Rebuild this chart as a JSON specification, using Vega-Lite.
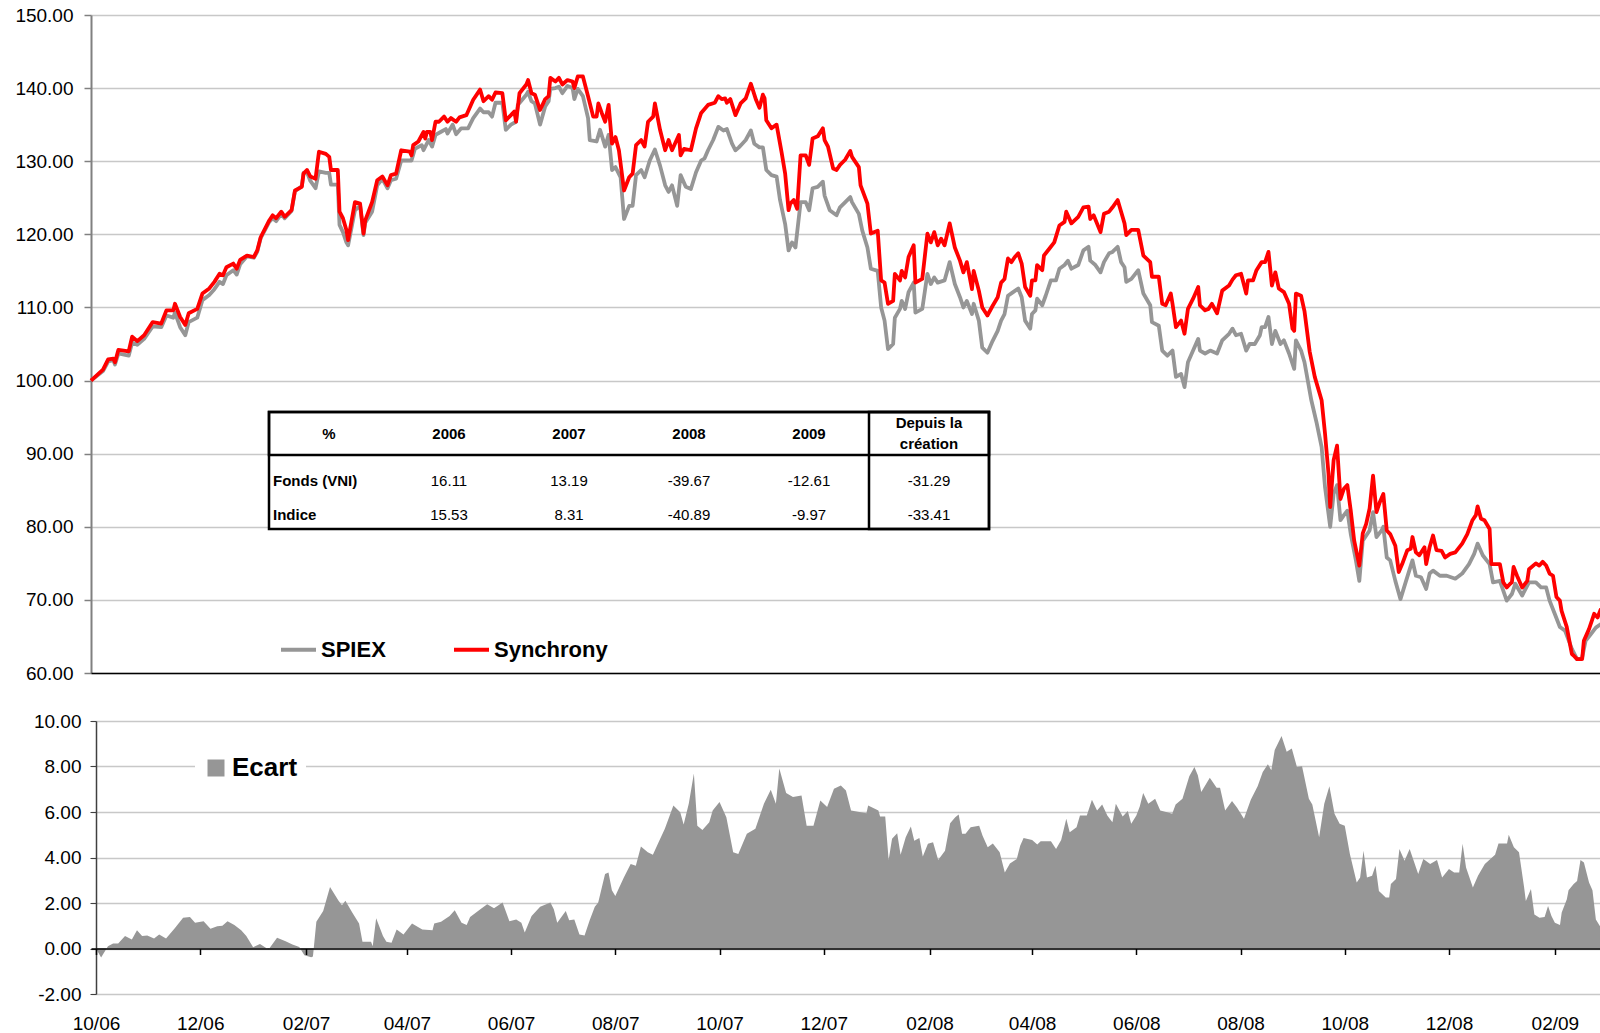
{
"$schema": "https://vega.github.io/schema/vega-lite/v6.json",
"background": "white",
"padding": {"left": 14, "top": 6, "right": 0, "bottom": 0},
"spacing": 29,
"align": "none",
"config": {"view": {"stroke": null}, "font": "Liberation Sans", "axis": {"labelFont": "Liberation Sans"}, "legend": {"labelFont": "Liberation Sans"}},
"resolve": {"scale": {"x": "independent", "y": "independent", "color": "independent"}, "legend": {"color": "independent"}},
"datasets": {
"sync": [
{"d":"2006-10-01","v":100.0},{"d":"2006-10-08","v":101.5},{"d":"2006-10-11","v":102.9},{"d":"2006-10-14","v":103.0},{"d":"2006-10-15","v":102.5},{"d":"2006-10-17","v":104.2},{"d":"2006-10-23","v":104.0},{"d":"2006-10-25","v":106.0},{"d":"2006-10-28","v":105.4},{"d":"2006-11-01","v":106.2},{"d":"2006-11-06","v":108.0},{"d":"2006-11-11","v":107.8},{"d":"2006-11-14","v":109.6},{"d":"2006-11-18","v":109.6},{"d":"2006-11-19","v":110.5},{"d":"2006-11-22","v":108.7},{"d":"2006-11-25","v":107.6},{"d":"2006-11-27","v":109.2},{"d":"2006-12-02","v":109.8},{"d":"2006-12-05","v":111.9},{"d":"2006-12-09","v":112.6},{"d":"2006-12-12","v":113.5},{"d":"2006-12-15","v":114.6},{"d":"2006-12-17","v":114.4},{"d":"2006-12-19","v":115.5},{"d":"2006-12-23","v":116.0},{"d":"2006-12-25","v":115.3},{"d":"2006-12-27","v":116.5},{"d":"2006-12-31","v":117.1},
{"d":"2007-01-04","v":116.9},{"d":"2007-01-06","v":117.8},{"d":"2007-01-08","v":119.6},{"d":"2007-01-13","v":121.9},{"d":"2007-01-15","v":122.6},{"d":"2007-01-17","v":122.2},{"d":"2007-01-20","v":123.1},{"d":"2007-01-22","v":122.4},{"d":"2007-01-26","v":123.3},{"d":"2007-01-28","v":126.0},{"d":"2007-02-01","v":126.5},{"d":"2007-02-02","v":128.3},{"d":"2007-02-04","v":128.8},{"d":"2007-02-06","v":127.9},{"d":"2007-02-09","v":127.6},{"d":"2007-02-11","v":131.3},{"d":"2007-02-15","v":131.0},{"d":"2007-02-17","v":130.6},{"d":"2007-02-18","v":128.8},{"d":"2007-02-22","v":128.8},{"d":"2007-02-23","v":123.1},{"d":"2007-02-25","v":122.2},{"d":"2007-02-27","v":120.6},{"d":"2007-02-28","v":119.2},{"d":"2007-03-04","v":124.4},{"d":"2007-03-07","v":124.2},{"d":"2007-03-09","v":120.1},{"d":"2007-03-10","v":121.9},{"d":"2007-03-14","v":124.4},{"d":"2007-03-17","v":127.4},{"d":"2007-03-20","v":127.9},{"d":"2007-03-23","v":126.7},{"d":"2007-03-25","v":128.1},{"d":"2007-03-28","v":128.3},{"d":"2007-03-31","v":131.5},
{"d":"2007-04-05","v":131.3},{"d":"2007-04-06","v":130.8},{"d":"2007-04-07","v":132.2},{"d":"2007-04-10","v":132.7},{"d":"2007-04-13","v":134.0},{"d":"2007-04-14","v":133.1},{"d":"2007-04-15","v":134.0},{"d":"2007-04-17","v":134.0},{"d":"2007-04-18","v":132.9},{"d":"2007-04-20","v":135.4},{"d":"2007-04-22","v":135.4},{"d":"2007-04-25","v":136.1},{"d":"2007-04-27","v":135.4},{"d":"2007-04-29","v":135.9},{"d":"2007-05-02","v":135.4},{"d":"2007-05-04","v":136.0},{"d":"2007-05-08","v":136.3},{"d":"2007-05-12","v":138.4},{"d":"2007-05-16","v":139.8},{"d":"2007-05-18","v":138.2},{"d":"2007-05-21","v":138.9},{"d":"2007-05-23","v":138.4},{"d":"2007-05-25","v":139.4},{"d":"2007-05-29","v":139.3},{"d":"2007-05-31","v":135.6},{"d":"2007-06-03","v":136.3},{"d":"2007-06-05","v":136.8},{"d":"2007-06-06","v":135.4},{"d":"2007-06-08","v":139.3},{"d":"2007-06-12","v":140.5},{"d":"2007-06-13","v":141.1},{"d":"2007-06-15","v":139.3},{"d":"2007-06-17","v":139.1},{"d":"2007-06-20","v":137.0},{"d":"2007-06-23","v":138.5},{"d":"2007-06-25","v":138.9},{"d":"2007-06-26","v":141.4},{"d":"2007-06-29","v":140.9},{"d":"2007-07-01","v":141.4},{"d":"2007-07-03","v":140.5},{"d":"2007-07-06","v":141.1},{"d":"2007-07-09","v":140.9},{"d":"2007-07-10","v":140.0},{"d":"2007-07-12","v":141.6},{"d":"2007-07-15","v":141.6},{"d":"2007-07-18","v":138.9},{"d":"2007-07-21","v":136.1},{"d":"2007-07-23","v":136.1},{"d":"2007-07-24","v":137.9},{"d":"2007-07-26","v":136.6},{"d":"2007-07-28","v":135.4},{"d":"2007-07-30","v":137.7},{"d":"2007-08-01","v":132.4},{"d":"2007-08-03","v":133.3},{"d":"2007-08-05","v":131.5},{"d":"2007-08-08","v":126.0},{"d":"2007-08-11","v":127.8},{"d":"2007-08-13","v":128.3},{"d":"2007-08-15","v":132.2},{"d":"2007-08-18","v":132.9},{"d":"2007-08-20","v":132.0},{"d":"2007-08-22","v":135.4},{"d":"2007-08-25","v":136.1},{"d":"2007-08-26","v":137.9},{"d":"2007-08-29","v":134.3},{"d":"2007-09-01","v":131.5},{"d":"2007-09-03","v":132.9},{"d":"2007-09-05","v":131.5},{"d":"2007-09-09","v":133.6},{"d":"2007-09-10","v":130.8},{"d":"2007-09-12","v":131.7},{"d":"2007-09-16","v":131.5},{"d":"2007-09-19","v":134.5},{"d":"2007-09-22","v":136.6},
{"d":"2007-09-26","v":137.7},{"d":"2007-09-30","v":138.0},{"d":"2007-10-02","v":138.9},{"d":"2007-10-04","v":138.5},{"d":"2007-10-06","v":138.6},{"d":"2007-10-07","v":138.0},{"d":"2007-10-09","v":138.5},{"d":"2007-10-12","v":136.3},{"d":"2007-10-15","v":137.9},{"d":"2007-10-18","v":138.6},{"d":"2007-10-21","v":140.6},{"d":"2007-10-24","v":138.4},{"d":"2007-10-26","v":137.3},{"d":"2007-10-28","v":139.1},{"d":"2007-10-29","v":138.6},{"d":"2007-10-30","v":135.6},{"d":"2007-11-02","v":134.5},{"d":"2007-11-05","v":135.0},{"d":"2007-11-08","v":131.1},{"d":"2007-11-10","v":128.3},{"d":"2007-11-12","v":123.3},{"d":"2007-11-13","v":124.2},{"d":"2007-11-15","v":124.7},{"d":"2007-11-17","v":123.5},{"d":"2007-11-19","v":130.8},{"d":"2007-11-22","v":130.8},{"d":"2007-11-24","v":129.5},{"d":"2007-11-26","v":133.1},{"d":"2007-11-29","v":133.4},{"d":"2007-12-02","v":134.5},{"d":"2007-12-03","v":132.9},{"d":"2007-12-05","v":132.0},{"d":"2007-12-08","v":129.0},{"d":"2007-12-10","v":128.8},{"d":"2007-12-12","v":129.5},{"d":"2007-12-15","v":130.2},{"d":"2007-12-18","v":131.4},{"d":"2007-12-19","v":130.6},{"d":"2007-12-23","v":129.2},{"d":"2007-12-24","v":126.7},{"d":"2007-12-28","v":124.2},{"d":"2007-12-30","v":120.1},
{"d":"2008-01-03","v":120.5},{"d":"2008-01-05","v":113.7},{"d":"2008-01-07","v":113.4},{"d":"2008-01-09","v":110.5},{"d":"2008-01-12","v":110.9},{"d":"2008-01-13","v":114.6},{"d":"2008-01-16","v":113.7},{"d":"2008-01-17","v":115.0},{"d":"2008-01-19","v":114.1},{"d":"2008-01-21","v":116.9},{"d":"2008-01-24","v":118.5},{"d":"2008-01-25","v":113.4},{"d":"2008-01-29","v":113.9},{"d":"2008-02-01","v":120.1},{"d":"2008-02-03","v":118.9},{"d":"2008-02-05","v":120.3},{"d":"2008-02-07","v":118.5},{"d":"2008-02-09","v":119.4},{"d":"2008-02-11","v":118.5},{"d":"2008-02-14","v":121.5},{"d":"2008-02-17","v":118.2},{"d":"2008-02-20","v":116.4},{"d":"2008-02-22","v":114.8},{"d":"2008-02-24","v":116.2},{"d":"2008-02-27","v":112.5},{"d":"2008-02-28","v":115.0},{"d":"2008-03-02","v":112.3},{"d":"2008-03-04","v":110.0},{"d":"2008-03-07","v":108.9},{"d":"2008-03-10","v":110.2},{"d":"2008-03-13","v":111.4},{"d":"2008-03-15","v":113.4},
{"d":"2008-03-17","v":113.9},{"d":"2008-03-19","v":116.7},{"d":"2008-03-21","v":116.2},{"d":"2008-03-23","v":116.9},{"d":"2008-03-25","v":117.4},{"d":"2008-03-27","v":116.0},{"d":"2008-03-29","v":112.8},{"d":"2008-04-01","v":111.6},{"d":"2008-04-02","v":113.7},{"d":"2008-04-04","v":113.7},{"d":"2008-04-05","v":115.8},{"d":"2008-04-08","v":115.1},{"d":"2008-04-09","v":117.1},{"d":"2008-04-12","v":118.0},{"d":"2008-04-15","v":118.9},{"d":"2008-04-18","v":121.2},{"d":"2008-04-21","v":121.7},{"d":"2008-04-22","v":123.1},{"d":"2008-04-25","v":121.5},{"d":"2008-04-29","v":122.4},{"d":"2008-05-02","v":123.7},{"d":"2008-05-05","v":123.8},{"d":"2008-05-06","v":122.1},{"d":"2008-05-08","v":122.6},{"d":"2008-05-12","v":120.3},{"d":"2008-05-14","v":122.8},{"d":"2008-05-17","v":123.1},{"d":"2008-05-19","v":123.7},{"d":"2008-05-22","v":124.7},{"d":"2008-05-26","v":121.5},{"d":"2008-05-27","v":119.9},{"d":"2008-05-30","v":120.6},{"d":"2008-06-03","v":120.6},{"d":"2008-06-06","v":117.1},{"d":"2008-06-10","v":116.2},{"d":"2008-06-11","v":114.2},{"d":"2008-06-15","v":114.2},{"d":"2008-06-17","v":110.5},{"d":"2008-06-19","v":110.3},{"d":"2008-06-22","v":111.9},{"d":"2008-06-23","v":110.5},{"d":"2008-06-25","v":107.3},{"d":"2008-06-28","v":108.2},{"d":"2008-06-30","v":106.4},{"d":"2008-07-02","v":109.8},{"d":"2008-07-05","v":111.2},{"d":"2008-07-08","v":112.8},{"d":"2008-07-09","v":110.3},{"d":"2008-07-12","v":109.6},{"d":"2008-07-14","v":109.8},{"d":"2008-07-16","v":110.5},{"d":"2008-07-19","v":109.2},{"d":"2008-07-22","v":112.3},{"d":"2008-07-26","v":113.0},{"d":"2008-07-28","v":113.8},{"d":"2008-07-30","v":114.4},{"d":"2008-08-02","v":114.6},{"d":"2008-08-05","v":111.9},{"d":"2008-08-06","v":113.7},{"d":"2008-08-09","v":113.7},{"d":"2008-08-11","v":115.1},{"d":"2008-08-14","v":116.2},{"d":"2008-08-16","v":116.2},{"d":"2008-08-18","v":117.6},{"d":"2008-08-20","v":113.0},{"d":"2008-08-22","v":114.8},{"d":"2008-08-24","v":112.6},{"d":"2008-08-27","v":112.1},{"d":"2008-08-30","v":110.5},{"d":"2008-09-01","v":107.1},{"d":"2008-09-02","v":106.8},{"d":"2008-09-03","v":111.9},{"d":"2008-09-06","v":111.6},{"d":"2008-09-08","v":109.5},{"d":"2008-09-11","v":104.0},{"d":"2008-09-14","v":100.5},{"d":"2008-09-18","v":97.3},
{"d":"2008-09-20","v":92.7},{"d":"2008-09-22","v":87.3},{"d":"2008-09-23","v":82.7},{"d":"2008-09-25","v":89.1},{"d":"2008-09-27","v":91.1},{"d":"2008-09-29","v":83.8},{"d":"2008-10-01","v":85.2},{"d":"2008-10-03","v":85.7},{"d":"2008-10-05","v":82.2},{"d":"2008-10-07","v":78.1},{"d":"2008-10-10","v":74.7},{"d":"2008-10-12","v":79.1},{"d":"2008-10-14","v":80.4},{"d":"2008-10-16","v":82.5},{"d":"2008-10-18","v":87.0},{"d":"2008-10-20","v":82.0},{"d":"2008-10-22","v":83.4},{"d":"2008-10-24","v":84.5},{"d":"2008-10-26","v":79.5},{"d":"2008-10-28","v":79.0},{"d":"2008-10-31","v":77.4},{"d":"2008-11-02","v":73.8},{"d":"2008-11-04","v":74.9},{"d":"2008-11-07","v":76.8},{"d":"2008-11-09","v":77.0},{"d":"2008-11-10","v":78.6},{"d":"2008-11-12","v":76.5},{"d":"2008-11-14","v":76.1},{"d":"2008-11-17","v":77.2},{"d":"2008-11-18","v":74.9},{"d":"2008-11-20","v":77.2},{"d":"2008-11-22","v":78.8},{"d":"2008-11-24","v":76.8},{"d":"2008-11-27","v":76.7},{"d":"2008-11-29","v":75.8},{"d":"2008-12-02","v":76.3},{"d":"2008-12-05","v":76.5},{"d":"2008-12-09","v":77.7},{"d":"2008-12-12","v":79.0},{"d":"2008-12-15","v":80.9},{"d":"2008-12-17","v":81.6},{"d":"2008-12-18","v":82.8},{"d":"2008-12-20","v":81.1},{"d":"2008-12-22","v":80.9},{"d":"2008-12-25","v":79.7},{"d":"2008-12-26","v":74.9},{"d":"2008-12-29","v":74.9},{"d":"2008-12-31","v":74.9},{"d":"2009-01-02","v":72.4},{"d":"2009-01-04","v":71.7},{"d":"2009-01-06","v":72.2},{"d":"2009-01-07","v":72.4},{"d":"2009-01-08","v":74.5},{"d":"2009-01-10","v":73.3},{"d":"2009-01-13","v":71.7},{"d":"2009-01-16","v":72.6},{"d":"2009-01-17","v":74.2},{"d":"2009-01-21","v":75.0},{"d":"2009-01-23","v":74.7},{"d":"2009-01-25","v":75.2},{"d":"2009-01-27","v":74.7},{"d":"2009-01-29","v":73.6},{"d":"2009-01-31","v":73.3},{"d":"2009-02-02","v":70.4},{"d":"2009-02-04","v":69.9},{"d":"2009-02-05","v":68.5},{"d":"2009-02-08","v":66.3},{"d":"2009-02-11","v":62.6},{"d":"2009-02-12","v":62.4},{"d":"2009-02-14","v":61.9},{"d":"2009-02-17","v":61.9},{"d":"2009-02-18","v":64.4},{"d":"2009-02-21","v":66.0},{"d":"2009-02-24","v":68.1},{"d":"2009-02-26","v":67.6},{"d":"2009-02-28","v":68.8}
],
"spiex": [
{"d":"2006-10-01","v":100.0},{"d":"2006-10-08","v":101.3},{"d":"2006-10-11","v":102.6},{"d":"2006-10-14","v":102.8},{"d":"2006-10-15","v":102.2},{"d":"2006-10-17","v":103.7},{"d":"2006-10-23","v":103.4},{"d":"2006-10-25","v":105.2},{"d":"2006-10-28","v":104.9},{"d":"2006-11-01","v":105.7},{"d":"2006-11-06","v":107.4},{"d":"2006-11-11","v":107.3},{"d":"2006-11-14","v":108.9},{"d":"2006-11-18","v":108.6},{"d":"2006-11-19","v":109.3},{"d":"2006-11-22","v":107.3},{"d":"2006-11-25","v":106.2},{"d":"2006-11-27","v":108.0},{"d":"2006-12-02","v":108.6},{"d":"2006-12-05","v":111.0},{"d":"2006-12-09","v":111.7},{"d":"2006-12-12","v":112.5},{"d":"2006-12-15","v":113.5},{"d":"2006-12-17","v":113.2},{"d":"2006-12-19","v":114.4},{"d":"2006-12-23","v":115.1},{"d":"2006-12-25","v":114.5},{"d":"2006-12-27","v":115.9},{"d":"2006-12-31","v":117.0},
{"d":"2007-01-04","v":116.8},{"d":"2007-01-06","v":117.6},{"d":"2007-01-08","v":119.5},{"d":"2007-01-13","v":121.7},{"d":"2007-01-15","v":122.2},{"d":"2007-01-17","v":121.8},{"d":"2007-01-20","v":122.8},{"d":"2007-01-22","v":122.2},{"d":"2007-01-26","v":123.2},{"d":"2007-01-28","v":125.9},{"d":"2007-02-01","v":126.6},{"d":"2007-02-02","v":128.4},{"d":"2007-02-04","v":128.5},{"d":"2007-02-06","v":127.3},{"d":"2007-02-09","v":126.3},{"d":"2007-02-11","v":128.6},{"d":"2007-02-15","v":128.4},{"d":"2007-02-17","v":128.4},{"d":"2007-02-18","v":126.8},{"d":"2007-02-22","v":126.8},{"d":"2007-02-23","v":121.3},{"d":"2007-02-25","v":120.3},{"d":"2007-02-27","v":118.9},{"d":"2007-02-28","v":118.5},{"d":"2007-03-04","v":123.3},{"d":"2007-03-07","v":123.9},{"d":"2007-03-09","v":119.9},{"d":"2007-03-10","v":121.6},{"d":"2007-03-14","v":123.1},{"d":"2007-03-17","v":126.7},{"d":"2007-03-20","v":127.6},{"d":"2007-03-23","v":126.3},{"d":"2007-03-25","v":127.4},{"d":"2007-03-28","v":127.6},
{"d":"2007-03-31","v":130.1},{"d":"2007-04-06","v":130.1},{"d":"2007-04-08","v":131.7},{"d":"2007-04-12","v":132.2},{"d":"2007-04-13","v":131.5},{"d":"2007-04-16","v":132.9},{"d":"2007-04-18","v":132.0},{"d":"2007-04-20","v":133.6},{"d":"2007-04-23","v":134.0},{"d":"2007-04-26","v":134.4},{"d":"2007-04-27","v":133.8},{"d":"2007-04-30","v":135.0},{"d":"2007-05-02","v":133.7},{"d":"2007-05-05","v":134.5},{"d":"2007-05-09","v":134.5},{"d":"2007-05-12","v":135.9},{"d":"2007-05-16","v":137.2},{"d":"2007-05-18","v":136.7},{"d":"2007-05-21","v":136.7},{"d":"2007-05-23","v":136.1},{"d":"2007-05-25","v":138.0},{"d":"2007-05-29","v":138.0},{"d":"2007-05-31","v":134.3},{"d":"2007-06-03","v":135.0},{"d":"2007-06-06","v":135.4},{"d":"2007-06-07","v":137.7},{"d":"2007-06-12","v":139.1},{"d":"2007-06-13","v":139.5},{"d":"2007-06-15","v":138.2},{"d":"2007-06-17","v":137.9},{"d":"2007-06-20","v":135.0},{"d":"2007-06-23","v":137.5},{"d":"2007-06-25","v":138.2},{"d":"2007-06-26","v":139.9},{"d":"2007-06-29","v":140.0},{"d":"2007-07-01","v":140.2},{"d":"2007-07-03","v":139.3},{"d":"2007-07-06","v":140.3},{"d":"2007-07-09","v":140.0},{"d":"2007-07-10","v":138.5},{"d":"2007-07-12","v":139.9},{"d":"2007-07-15","v":138.9},{"d":"2007-07-18","v":135.9},{"d":"2007-07-19","v":132.9},{"d":"2007-07-23","v":132.7},{"d":"2007-07-25","v":134.3},{"d":"2007-07-28","v":132.0},{"d":"2007-07-30","v":133.6},{"d":"2007-08-01","v":128.8},{"d":"2007-08-03","v":129.2},{"d":"2007-08-06","v":127.8},{"d":"2007-08-08","v":122.1},{"d":"2007-08-11","v":123.9},{"d":"2007-08-13","v":123.9},{"d":"2007-08-15","v":128.1},{"d":"2007-08-18","v":128.8},{"d":"2007-08-20","v":127.8},{"d":"2007-08-23","v":130.1},{"d":"2007-08-26","v":131.6},{"d":"2007-08-29","v":129.4},{"d":"2007-09-01","v":126.7},{"d":"2007-09-03","v":125.8},{"d":"2007-09-05","v":126.7},{"d":"2007-09-08","v":123.9},{"d":"2007-09-10","v":128.1},{"d":"2007-09-13","v":126.5},{"d":"2007-09-16","v":126.2},{"d":"2007-09-19","v":128.5},{"d":"2007-09-22","v":130.1},
{"d":"2007-09-24","v":130.4},{"d":"2007-09-26","v":131.5},{"d":"2007-09-29","v":132.9},{"d":"2007-10-02","v":134.7},{"d":"2007-10-05","v":134.2},{"d":"2007-10-07","v":134.4},{"d":"2007-10-10","v":132.4},{"d":"2007-10-12","v":131.5},{"d":"2007-10-14","v":131.9},{"d":"2007-10-16","v":132.4},{"d":"2007-10-18","v":132.9},{"d":"2007-10-21","v":134.2},{"d":"2007-10-23","v":132.4},{"d":"2007-10-26","v":131.9},{"d":"2007-10-28","v":131.9},{"d":"2007-10-30","v":128.8},{"d":"2007-11-02","v":128.1},{"d":"2007-11-05","v":127.9},{"d":"2007-11-07","v":124.7},{"d":"2007-11-10","v":121.4},{"d":"2007-11-12","v":117.8},{"d":"2007-11-14","v":118.9},{"d":"2007-11-16","v":118.2},{"d":"2007-11-19","v":124.4},{"d":"2007-11-22","v":124.4},{"d":"2007-11-24","v":123.3},{"d":"2007-11-26","v":126.3},{"d":"2007-11-29","v":126.5},{"d":"2007-12-02","v":127.2},{"d":"2007-12-03","v":125.3},{"d":"2007-12-06","v":123.3},{"d":"2007-12-10","v":122.6},{"d":"2007-12-12","v":123.7},{"d":"2007-12-18","v":125.1},{"d":"2007-12-19","v":124.4},{"d":"2007-12-23","v":122.8},{"d":"2007-12-25","v":120.5},{"d":"2007-12-28","v":118.2},{"d":"2007-12-30","v":115.3},
{"d":"2008-01-03","v":115.0},{"d":"2008-01-05","v":110.0},{"d":"2008-01-07","v":108.2},{"d":"2008-01-09","v":104.3},{"d":"2008-01-12","v":105.0},{"d":"2008-01-13","v":108.6},{"d":"2008-01-16","v":109.8},{"d":"2008-01-17","v":110.9},{"d":"2008-01-19","v":109.8},{"d":"2008-01-21","v":112.1},{"d":"2008-01-24","v":113.4},{"d":"2008-01-25","v":109.3},{"d":"2008-01-29","v":109.8},{"d":"2008-02-01","v":114.6},{"d":"2008-02-03","v":113.2},{"d":"2008-02-05","v":114.1},{"d":"2008-02-07","v":113.4},{"d":"2008-02-11","v":113.7},{"d":"2008-02-14","v":116.2},{"d":"2008-02-17","v":113.2},{"d":"2008-02-20","v":111.4},{"d":"2008-02-22","v":110.0},{"d":"2008-02-24","v":110.9},{"d":"2008-02-27","v":109.1},{"d":"2008-02-28","v":110.5},{"d":"2008-03-02","v":108.2},{"d":"2008-03-04","v":104.5},{"d":"2008-03-07","v":103.8},{"d":"2008-03-10","v":105.4},{"d":"2008-03-13","v":106.8},{"d":"2008-03-15","v":108.2},
{"d":"2008-03-17","v":109.1},{"d":"2008-03-19","v":111.6},{"d":"2008-03-22","v":112.1},{"d":"2008-03-25","v":112.6},{"d":"2008-03-27","v":111.4},{"d":"2008-03-29","v":108.2},{"d":"2008-04-01","v":107.1},{"d":"2008-04-02","v":109.1},{"d":"2008-04-04","v":109.6},{"d":"2008-04-05","v":111.2},{"d":"2008-04-08","v":110.3},{"d":"2008-04-10","v":111.6},{"d":"2008-04-13","v":113.7},{"d":"2008-04-16","v":113.7},{"d":"2008-04-18","v":115.3},{"d":"2008-04-21","v":115.8},{"d":"2008-04-23","v":116.4},{"d":"2008-04-25","v":115.3},{"d":"2008-04-29","v":115.8},{"d":"2008-05-02","v":117.8},{"d":"2008-05-05","v":118.3},{"d":"2008-05-06","v":116.4},{"d":"2008-05-09","v":115.8},{"d":"2008-05-12","v":114.8},{"d":"2008-05-14","v":116.2},{"d":"2008-05-17","v":117.4},{"d":"2008-05-19","v":117.6},{"d":"2008-05-22","v":118.3},{"d":"2008-05-24","v":116.2},{"d":"2008-05-26","v":115.5},{"d":"2008-05-27","v":113.5},{"d":"2008-05-30","v":113.9},{"d":"2008-06-03","v":115.1},{"d":"2008-06-06","v":111.9},{"d":"2008-06-10","v":110.3},{"d":"2008-06-11","v":108.0},{"d":"2008-06-15","v":107.5},{"d":"2008-06-17","v":104.1},{"d":"2008-06-20","v":103.4},{"d":"2008-06-23","v":104.1},{"d":"2008-06-25","v":100.5},{"d":"2008-06-28","v":100.9},{"d":"2008-06-30","v":99.1},{"d":"2008-07-02","v":102.5},{"d":"2008-07-05","v":104.1},{"d":"2008-07-08","v":105.7},{"d":"2008-07-09","v":104.1},{"d":"2008-07-12","v":103.7},{"d":"2008-07-15","v":104.1},{"d":"2008-07-19","v":103.7},{"d":"2008-07-22","v":105.5},{"d":"2008-07-26","v":106.4},{"d":"2008-07-28","v":107.1},{"d":"2008-07-30","v":106.2},{"d":"2008-08-02","v":106.4},{"d":"2008-08-05","v":104.1},{"d":"2008-08-07","v":105.0},{"d":"2008-08-10","v":105.0},{"d":"2008-08-13","v":106.2},{"d":"2008-08-14","v":107.3},{"d":"2008-08-16","v":107.3},{"d":"2008-08-18","v":108.7},{"d":"2008-08-20","v":105.0},{"d":"2008-08-22","v":106.8},{"d":"2008-08-25","v":105.0},{"d":"2008-08-27","v":105.5},{"d":"2008-08-30","v":103.7},{"d":"2008-09-02","v":101.6},{"d":"2008-09-03","v":105.5},{"d":"2008-09-06","v":104.1},{"d":"2008-09-08","v":102.5},{"d":"2008-09-12","v":97.3},{"d":"2008-09-15","v":94.3},{"d":"2008-09-18","v":90.9},
{"d":"2008-09-20","v":85.4},{"d":"2008-09-23","v":80.0},{"d":"2008-09-25","v":84.5},{"d":"2008-09-27","v":85.7},{"d":"2008-09-29","v":80.9},{"d":"2008-10-01","v":81.6},{"d":"2008-10-03","v":82.2},{"d":"2008-10-05","v":79.0},{"d":"2008-10-08","v":75.4},{"d":"2008-10-10","v":72.6},{"d":"2008-10-12","v":78.1},{"d":"2008-10-16","v":79.5},{"d":"2008-10-18","v":82.0},{"d":"2008-10-20","v":78.6},{"d":"2008-10-23","v":79.5},{"d":"2008-10-24","v":80.0},{"d":"2008-10-26","v":75.8},{"d":"2008-10-28","v":75.4},{"d":"2008-10-31","v":72.6},{"d":"2008-11-03","v":70.1},{"d":"2008-11-06","v":72.4},{"d":"2008-11-10","v":75.4},{"d":"2008-11-12","v":73.3},{"d":"2008-11-15","v":73.1},{"d":"2008-11-18","v":71.5},{"d":"2008-11-20","v":73.6},{"d":"2008-11-22","v":74.0},{"d":"2008-11-26","v":73.3},{"d":"2008-11-30","v":73.3},{"d":"2008-12-05","v":72.9},{"d":"2008-12-09","v":73.6},{"d":"2008-12-13","v":74.9},{"d":"2008-12-16","v":76.3},{"d":"2008-12-18","v":77.7},{"d":"2008-12-21","v":76.1},{"d":"2008-12-25","v":74.9},{"d":"2008-12-27","v":72.4},{"d":"2008-12-31","v":72.6},{"d":"2009-01-04","v":69.9},{"d":"2009-01-07","v":70.8},{"d":"2009-01-09","v":72.2},{"d":"2009-01-13","v":70.6},{"d":"2009-01-17","v":72.4},{"d":"2009-01-21","v":72.4},{"d":"2009-01-24","v":71.7},{"d":"2009-01-27","v":71.7},{"d":"2009-01-29","v":69.9},{"d":"2009-02-01","v":68.1},{"d":"2009-02-04","v":66.3},{"d":"2009-02-07","v":65.8},{"d":"2009-02-11","v":63.3},{"d":"2009-02-14","v":61.9},{"d":"2009-02-17","v":62.1},{"d":"2009-02-19","v":64.4},{"d":"2009-02-22","v":65.3},{"d":"2009-02-25","v":66.2},{"d":"2009-02-28","v":66.7}
],
"ecart": [
{"d":"2006-10-01","e":0},{"d":"2006-10-04","e":-0.4},{"d":"2006-10-08","e":0.1},{"d":"2006-10-11","e":0.22},{"d":"2006-10-14","e":0.22},{"d":"2006-10-18","e":0.55},{"d":"2006-10-22","e":0.4},{"d":"2006-10-25","e":0.8},{"d":"2006-10-28","e":0.55},{"d":"2006-10-31","e":0.57},{"d":"2006-11-04","e":0.44},{"d":"2006-11-07","e":0.62},{"d":"2006-11-11","e":0.44},{"d":"2006-11-16","e":0.88},{"d":"2006-11-21","e":1.35},{"d":"2006-11-25","e":1.38},{"d":"2006-11-28","e":1.13},{"d":"2006-12-03","e":1.2},{"d":"2006-12-07","e":0.87},{"d":"2006-12-11","e":0.98},{"d":"2006-12-14","e":1.0},{"d":"2006-12-17","e":1.2},{"d":"2006-12-21","e":1.03},{"d":"2006-12-25","e":0.8},{"d":"2006-12-28","e":0.55},
{"d":"2007-01-01","e":0.06},{"d":"2007-01-05","e":0.2},{"d":"2007-01-10","e":-0.04},{"d":"2007-01-15","e":0.47},{"d":"2007-01-20","e":0.32},{"d":"2007-01-24","e":0.18},{"d":"2007-01-28","e":0.07},{"d":"2007-01-31","e":-0.3},{"d":"2007-02-04","e":-0.38},{"d":"2007-02-05","e":-0.35},{"d":"2007-02-07","e":1.18},{"d":"2007-02-11","e":1.65},{"d":"2007-02-15","e":2.7},{"d":"2007-02-20","e":2.1},{"d":"2007-02-22","e":1.9},{"d":"2007-02-24","e":2.1},{"d":"2007-02-28","e":1.58},{"d":"2007-03-04","e":1.1},{"d":"2007-03-06","e":0.3},{"d":"2007-03-11","e":0.3},{"d":"2007-03-12","e":0.1},{"d":"2007-03-14","e":1.33},{"d":"2007-03-18","e":0.55},{"d":"2007-03-20","e":0.3},{"d":"2007-03-23","e":0.25},{"d":"2007-03-26","e":0.84},{"d":"2007-03-30","e":0.62},{"d":"2007-04-04","e":1.1},{"d":"2007-04-10","e":0.84},{"d":"2007-04-16","e":0.8},{"d":"2007-04-17","e":1.1},{"d":"2007-04-21","e":1.18},{"d":"2007-04-26","e":1.43},{"d":"2007-04-29","e":1.68},{"d":"2007-05-03","e":1.13},{"d":"2007-05-06","e":1.03},{"d":"2007-05-08","e":1.38},{"d":"2007-05-14","e":1.72},{"d":"2007-05-18","e":1.94},{"d":"2007-05-22","e":1.77},{"d":"2007-05-27","e":2.02},{"d":"2007-05-31","e":1.2},{"d":"2007-06-04","e":1.27},{"d":"2007-06-07","e":1.13},{"d":"2007-06-09","e":0.7},{"d":"2007-06-13","e":1.43},{"d":"2007-06-18","e":1.83},{"d":"2007-06-24","e":2.02},{"d":"2007-06-26","e":1.72},{"d":"2007-06-28","e":1.13},{"d":"2007-07-03","e":1.65},{"d":"2007-07-05","e":1.24},{"d":"2007-07-08","e":1.28},{"d":"2007-07-11","e":0.62},{"d":"2007-07-14","e":0.57},{"d":"2007-07-17","e":1.24},{"d":"2007-07-20","e":1.83},{"d":"2007-07-22","e":2.02},{"d":"2007-07-26","e":3.27},{"d":"2007-07-28","e":3.34},{"d":"2007-07-30","e":2.56},{"d":"2007-08-01","e":2.31},{"d":"2007-08-06","e":3.12},{"d":"2007-08-10","e":3.71},{"d":"2007-08-13","e":3.64},{"d":"2007-08-16","e":4.48},{"d":"2007-08-20","e":4.23},{"d":"2007-08-23","e":4.12},{"d":"2007-08-26","e":4.62},{"d":"2007-08-30","e":5.26},{"d":"2007-09-04","e":6.29},{"d":"2007-09-08","e":5.99},{"d":"2007-09-10","e":5.45},{"d":"2007-09-13","e":6.36},{"d":"2007-09-16","e":7.69},{"d":"2007-09-18","e":5.4},{"d":"2007-09-21","e":5.21},{"d":"2007-09-25","e":5.55},{"d":"2007-09-27","e":6.07},{"d":"2007-10-01","e":6.44},{"d":"2007-10-05","e":5.77},{"d":"2007-10-09","e":4.23},{"d":"2007-10-12","e":4.15},{"d":"2007-10-17","e":5.04},{"d":"2007-10-22","e":5.26},{"d":"2007-10-27","e":6.36},{"d":"2007-10-31","e":6.98},{"d":"2007-11-03","e":6.36},{"d":"2007-11-05","e":7.91},{"d":"2007-11-09","e":6.83},{"d":"2007-11-13","e":6.66},{"d":"2007-11-18","e":6.73},{"d":"2007-11-21","e":5.4},{"d":"2007-11-25","e":5.4},{"d":"2007-11-29","e":6.51},{"d":"2007-12-03","e":6.22},{"d":"2007-12-07","e":7.02},{"d":"2007-12-11","e":7.17},{"d":"2007-12-14","e":6.95},{"d":"2007-12-17","e":6.07},{"d":"2007-12-26","e":5.95},{"d":"2007-12-27","e":6.29},
{"d":"2008-01-02","e":6.07},{"d":"2008-01-03","e":5.8},{"d":"2008-01-06","e":5.8},{"d":"2008-01-08","e":3.89},{"d":"2008-01-10","e":4.82},{"d":"2008-01-13","e":5.07},{"d":"2008-01-15","e":4.12},{"d":"2008-01-18","e":4.89},{"d":"2008-01-21","e":5.36},{"d":"2008-01-23","e":4.74},{"d":"2008-01-26","e":4.86},{"d":"2008-01-28","e":4.04},{"d":"2008-01-31","e":4.6},{"d":"2008-02-03","e":4.67},{"d":"2008-02-06","e":3.89},{"d":"2008-02-10","e":4.3},{"d":"2008-02-13","e":5.51},{"d":"2008-02-16","e":5.77},{"d":"2008-02-18","e":5.89},{"d":"2008-02-20","e":5.04},{"d":"2008-02-22","e":5.04},{"d":"2008-02-25","e":5.33},{"d":"2008-03-01","e":5.4},{"d":"2008-03-03","e":4.96},{"d":"2008-03-06","e":4.45},{"d":"2008-03-09","e":4.62},{"d":"2008-03-13","e":4.23},{"d":"2008-03-16","e":3.34},{"d":"2008-03-19","e":3.74},{"d":"2008-03-23","e":3.93},{"d":"2008-03-25","e":4.52},{"d":"2008-03-27","e":4.86},{"d":"2008-04-01","e":4.77},{"d":"2008-04-04","e":4.57},{"d":"2008-04-06","e":4.71},{"d":"2008-04-12","e":4.71},{"d":"2008-04-15","e":4.37},{"d":"2008-04-18","e":4.77},{"d":"2008-04-21","e":5.7},{"d":"2008-04-23","e":5.11},{"d":"2008-04-27","e":5.33},{"d":"2008-04-29","e":5.85},{"d":"2008-05-03","e":5.85},{"d":"2008-05-06","e":6.54},{"d":"2008-05-09","e":6.07},{"d":"2008-05-12","e":6.33},{"d":"2008-05-15","e":5.85},{"d":"2008-05-18","e":5.55},{"d":"2008-05-20","e":6.36},{"d":"2008-05-24","e":5.8},{"d":"2008-05-27","e":6.04},{"d":"2008-05-29","e":5.48},{"d":"2008-06-01","e":5.85},{"d":"2008-06-03","e":6.24},{"d":"2008-06-05","e":6.83},{"d":"2008-06-08","e":6.36},{"d":"2008-06-12","e":6.58},{"d":"2008-06-15","e":6.07},{"d":"2008-06-19","e":5.99},{"d":"2008-06-22","e":5.92},{"d":"2008-06-24","e":6.33},{"d":"2008-06-28","e":6.58},{"d":"2008-07-02","e":7.57},{"d":"2008-07-05","e":7.98},{"d":"2008-07-07","e":7.61},{"d":"2008-07-09","e":6.88},{"d":"2008-07-14","e":7.51},{"d":"2008-07-18","e":7.07},{"d":"2008-07-20","e":7.07},{"d":"2008-07-23","e":6.07},{"d":"2008-07-27","e":6.48},{"d":"2008-07-30","e":6.19},{"d":"2008-08-03","e":5.7},{"d":"2008-08-07","e":6.54},{"d":"2008-08-11","e":7.13},{"d":"2008-08-14","e":7.76},{"d":"2008-08-17","e":8.1},{"d":"2008-08-19","e":7.83},{"d":"2008-08-21","e":8.72},{"d":"2008-08-25","e":9.34},{"d":"2008-08-28","e":8.65},{"d":"2008-08-31","e":8.79},{"d":"2008-09-03","e":7.98},{"d":"2008-09-06","e":8.01},{"d":"2008-09-10","e":6.58},{"d":"2008-09-12","e":6.33},{"d":"2008-09-16","e":4.89},{"d":"2008-09-19","e":6.36},{"d":"2008-09-22","e":7.13},{"d":"2008-09-25","e":5.92},{"d":"2008-09-28","e":5.48},{"d":"2008-10-01","e":5.4},{"d":"2008-10-04","e":4.15},{"d":"2008-10-08","e":2.9},{"d":"2008-10-10","e":3.12},{"d":"2008-10-12","e":4.3},{"d":"2008-10-14","e":3.12},{"d":"2008-10-17","e":3.2},{"d":"2008-10-19","e":3.64},{"d":"2008-10-21","e":2.53},{"d":"2008-10-25","e":2.24},{"d":"2008-10-27","e":2.24},{"d":"2008-10-28","e":2.83},{"d":"2008-10-31","e":3.05},{"d":"2008-11-02","e":4.37},{"d":"2008-11-05","e":3.86},{"d":"2008-11-08","e":4.37},{"d":"2008-11-13","e":3.27},{"d":"2008-11-16","e":3.93},{"d":"2008-11-20","e":3.71},{"d":"2008-11-24","e":3.89},{"d":"2008-11-27","e":3.12},{"d":"2008-12-01","e":3.49},{"d":"2008-12-04","e":3.34},{"d":"2008-12-07","e":3.34},{"d":"2008-12-09","e":4.6},{"d":"2008-12-11","e":3.56},{"d":"2008-12-15","e":2.68},{"d":"2008-12-18","e":3.2},{"d":"2008-12-22","e":3.71},{"d":"2008-12-28","e":4.12},{"d":"2008-12-30","e":4.62},
{"d":"2009-01-04","e":4.62},{"d":"2009-01-05","e":5.0},{"d":"2009-01-08","e":4.45},{"d":"2009-01-11","e":4.23},{"d":"2009-01-14","e":2.68},{"d":"2009-01-15","e":2.09},{"d":"2009-01-18","e":2.61},{"d":"2009-01-20","e":1.5},{"d":"2009-01-23","e":1.35},{"d":"2009-01-26","e":1.38},{"d":"2009-01-28","e":1.87},{"d":"2009-01-30","e":1.43},{"d":"2009-02-01","e":1.13},{"d":"2009-02-04","e":1.03},{"d":"2009-02-05","e":1.58},{"d":"2009-02-08","e":2.16},{"d":"2009-02-09","e":2.56},{"d":"2009-02-12","e":2.83},{"d":"2009-02-14","e":2.97},{"d":"2009-02-16","e":3.89},{"d":"2009-02-18","e":3.78},{"d":"2009-02-21","e":2.9},{"d":"2009-02-23","e":2.56},{"d":"2009-02-25","e":1.28},{"d":"2009-02-28","e":0.91}
]
},
"vconcat": [
{
"width": 1510, "height": 658,
"layer": [
{"layer": [
{"data": {"name": "spiex"}, "mark": {"type": "line", "strokeWidth": 3.8, "strokeJoin": "round"},
"encoding": {
"x": {"field": "d", "type": "temporal", "scale": {"type": "utc", "domain": [{"year": 2006, "month": 10, "date": 1, "utc": true}, {"year": 2009, "month": 2, "date": 28, "utc": true}]}, "axis": {"title": null, "labels": false, "ticks": false, "grid": false, "domainColor": "black", "domainWidth": 1.5, "zindex": 1}},
"y": {"field": "v", "type": "quantitative", "scale": {"domain": [60, 150], "nice": false, "zero": false}, "axis": {"title": null, "values": [60,70,80,90,100,110,120,130,140,150], "format": ".2f", "labelFontSize": 19, "labelColor": "black", "tickSize": 7, "tickColor": "#808080", "tickWidth": 1.5, "labelPadding": 11, "domainColor": "#808080", "domainWidth": 2, "gridColor": "#c8c8c8", "gridWidth": 1.5, "minExtent": 73, "maxExtent": 73}},
"color": {"datum": "SPIEX", "type": "nominal", "scale": {"domain": ["SPIEX", "Synchrony"], "range": ["#969696", "#ff0000"]},
"legend": {"orient": "none", "legendX": 188, "legendY": 615, "direction": "horizontal", "title": null, "padding": 0, "symbolType": "stroke", "symbolSize": 1225, "symbolStrokeWidth": 4, "labelFontSize": 22, "labelFontWeight": "bold", "labelColor": "black", "labelOffset": 3, "columnPadding": 60}}
}},
{"data": {"name": "sync"}, "mark": {"type": "line", "strokeWidth": 3.8, "strokeJoin": "round"},
"encoding": {
"x": {"field": "d", "type": "temporal"},
"y": {"field": "v", "type": "quantitative"},
"color": {"datum": "Synchrony", "type": "nominal"}
}}
]},
{"data": {"values": [{"k": "table"}]}, "mark": {"type": "rect", "fill": "white", "stroke": "black", "strokeWidth": 2.5},
"encoding": {
"x": {"field": "k", "type": "nominal", "scale": {"range": [178, 898], "paddingInner": 0, "paddingOuter": 0}, "axis": null},
"y": {"field": "k", "type": "nominal", "scale": {"range": [397, 514], "paddingInner": 0, "paddingOuter": 0}, "axis": null}
}},
{"data": {"values": [{"k": "header"}]}, "mark": {"type": "rect", "fillOpacity": 0, "stroke": "black", "strokeWidth": 2.5},
"encoding": {
"x": {"field": "k", "type": "nominal", "scale": {"range": [178, 898], "paddingInner": 0, "paddingOuter": 0}, "axis": null},
"y": {"field": "k", "type": "nominal", "scale": {"range": [397, 440], "paddingInner": 0, "paddingOuter": 0}, "axis": null}
}},
{"data": {"values": [{"k": "Depuis"}]}, "mark": {"type": "rect", "fillOpacity": 0, "stroke": "black", "strokeWidth": 2.5},
"encoding": {
"x": {"field": "k", "type": "nominal", "scale": {"range": [778, 898], "paddingInner": 0, "paddingOuter": 0}, "axis": null},
"y": {"field": "k", "type": "nominal", "scale": {"range": [397, 514], "paddingInner": 0, "paddingOuter": 0}, "axis": null}
}},
{"data": {"values": [
{"c": "%", "r": "h", "t": "%"}, {"c": "2006", "r": "h", "t": "2006"}, {"c": "2007", "r": "h", "t": "2007"}, {"c": "2008", "r": "h", "t": "2008"}, {"c": "2009", "r": "h", "t": "2009"}]},
"mark": {"type": "text", "fontWeight": "bold", "fontSize": 15, "baseline": "middle", "color": "black"},
"encoding": {
"x": {"field": "c", "type": "nominal", "sort": null, "scale": {"domain": ["%", "2006", "2007", "2008", "2009", "Depuis"], "range": [178, 898], "paddingInner": 0, "paddingOuter": 0}, "axis": null},
"y": {"field": "r", "type": "nominal", "scale": {"range": [397, 440], "paddingInner": 0, "paddingOuter": 0}, "axis": null},
"text": {"field": "t"}
}},
{"data": {"values": [{"c": "Depuis", "r": "h", "t": "Depuis la\ncréation"}]},
"mark": {"type": "text", "fontWeight": "bold", "fontSize": 15, "lineBreak": "\n", "lineHeight": 21, "baseline": "middle", "dy": -10.5, "color": "black"},
"encoding": {
"x": {"field": "c", "type": "nominal", "sort": null, "scale": {"domain": ["%", "2006", "2007", "2008", "2009", "Depuis"], "range": [178, 898], "paddingInner": 0, "paddingOuter": 0}, "axis": null},
"y": {"field": "r", "type": "nominal", "scale": {"range": [397, 440], "paddingInner": 0, "paddingOuter": 0}, "axis": null},
"text": {"field": "t"}
}},
{"data": {"values": [
{"c": "2006", "r": "Fonds (VNI)", "t": "16.11"}, {"c": "2007", "r": "Fonds (VNI)", "t": "13.19"}, {"c": "2008", "r": "Fonds (VNI)", "t": "-39.67"}, {"c": "2009", "r": "Fonds (VNI)", "t": "-12.61"}, {"c": "Depuis", "r": "Fonds (VNI)", "t": "-31.29"},
{"c": "2006", "r": "Indice", "t": "15.53"}, {"c": "2007", "r": "Indice", "t": "8.31"}, {"c": "2008", "r": "Indice", "t": "-40.89"}, {"c": "2009", "r": "Indice", "t": "-9.97"}, {"c": "Depuis", "r": "Indice", "t": "-33.41"}]},
"mark": {"type": "text", "fontSize": 15, "baseline": "middle", "color": "black"},
"encoding": {
"x": {"field": "c", "type": "nominal", "sort": null, "scale": {"domain": ["%", "2006", "2007", "2008", "2009", "Depuis"], "range": [178, 898], "paddingInner": 0, "paddingOuter": 0}, "axis": null},
"y": {"field": "r", "type": "nominal", "sort": null, "scale": {"type": "point", "domain": ["Fonds (VNI)", "Indice"], "range": [466, 500], "padding": 0}, "axis": null},
"text": {"field": "t"}
}},
{"data": {"values": [{"c": "%", "r": "Fonds (VNI)", "t": "Fonds (VNI)"}, {"c": "%", "r": "Indice", "t": "Indice"}]},
"mark": {"type": "text", "fontSize": 15, "fontWeight": "bold", "align": "left", "dx": 4, "baseline": "middle", "color": "black"},
"encoding": {
"x": {"field": "c", "type": "nominal", "scale": {"type": "point", "domain": ["%"], "range": [178, 178], "padding": 0}, "axis": null},
"y": {"field": "r", "type": "nominal", "sort": null, "scale": {"type": "point", "domain": ["Fonds (VNI)", "Indice"], "range": [466, 500], "padding": 0}, "axis": null},
"text": {"field": "t"}
}}
],
"resolve": {"scale": {"x": "independent", "y": "independent"}}
},
{
"width": 1510, "height": 273,
"data": {"name": "ecart"},
"mark": {"type": "area", "opacity": 1},
"encoding": {
"x": {"field": "d", "type": "temporal", "scale": {"type": "utc", "domain": [{"year": 2006, "month": 9, "date": 28, "hours": 2, "utc": true}, {"year": 2009, "month": 2, "date": 28, "utc": true}]},
"axis": {"title": null, "values": [{"year": 2006, "month": 10, "date": 1, "utc": true}, {"year": 2006, "month": 12, "date": 1, "utc": true}, {"year": 2007, "month": 2, "date": 1, "utc": true}, {"year": 2007, "month": 4, "date": 1, "utc": true}, {"year": 2007, "month": 6, "date": 1, "utc": true}, {"year": 2007, "month": 8, "date": 1, "utc": true}, {"year": 2007, "month": 10, "date": 1, "utc": true}, {"year": 2007, "month": 12, "date": 1, "utc": true}, {"year": 2008, "month": 2, "date": 1, "utc": true}, {"year": 2008, "month": 4, "date": 1, "utc": true}, {"year": 2008, "month": 6, "date": 1, "utc": true}, {"year": 2008, "month": 8, "date": 1, "utc": true}, {"year": 2008, "month": 10, "date": 1, "utc": true}, {"year": 2008, "month": 12, "date": 1, "utc": true}, {"year": 2009, "month": 2, "date": 1, "utc": true}],
"format": "%m/%y", "offset": -45.5, "tickSize": 6, "tickColor": "black", "tickWidth": 1.5, "domainColor": "black", "domainWidth": 1.5, "labelPadding": 60, "labelFontSize": 19, "labelColor": "black", "grid": false, "zindex": 1, "labelFlush": false, "labelOverlap": false}},
"y": {"field": "e", "type": "quantitative", "scale": {"domain": [-2, 10], "nice": false}, "axis": {"title": null, "values": [-2, 0, 2, 4, 6, 8, 10], "format": ".2f", "labelExpr": "replace(datum.label, '\u2212', '-')", "labelFontSize": 19, "labelColor": "black", "tickSize": 6, "tickColor": "#404040", "labelPadding": 9, "offset": -5, "domainColor": "#404040", "domainWidth": 1.5, "gridColor": "#c8c8c8", "gridWidth": 1.5, "minExtent": 73, "maxExtent": 73}},
"color": {"datum": "Ecart", "type": "nominal", "scale": {"domain": ["Ecart"], "range": ["#969696"]},
"legend": {"orient": "none", "legendX": 104, "legendY": 26, "title": null, "symbolType": "square", "symbolSize": 289, "symbolStrokeWidth": 0, "symbolOpacity": 1, "symbolFillColor": "#969696", "labelFontSize": 26, "labelFontWeight": "bold", "labelColor": "black", "labelOffset": 3, "fillColor": "white", "padding": 8}}
}
}
]
}
